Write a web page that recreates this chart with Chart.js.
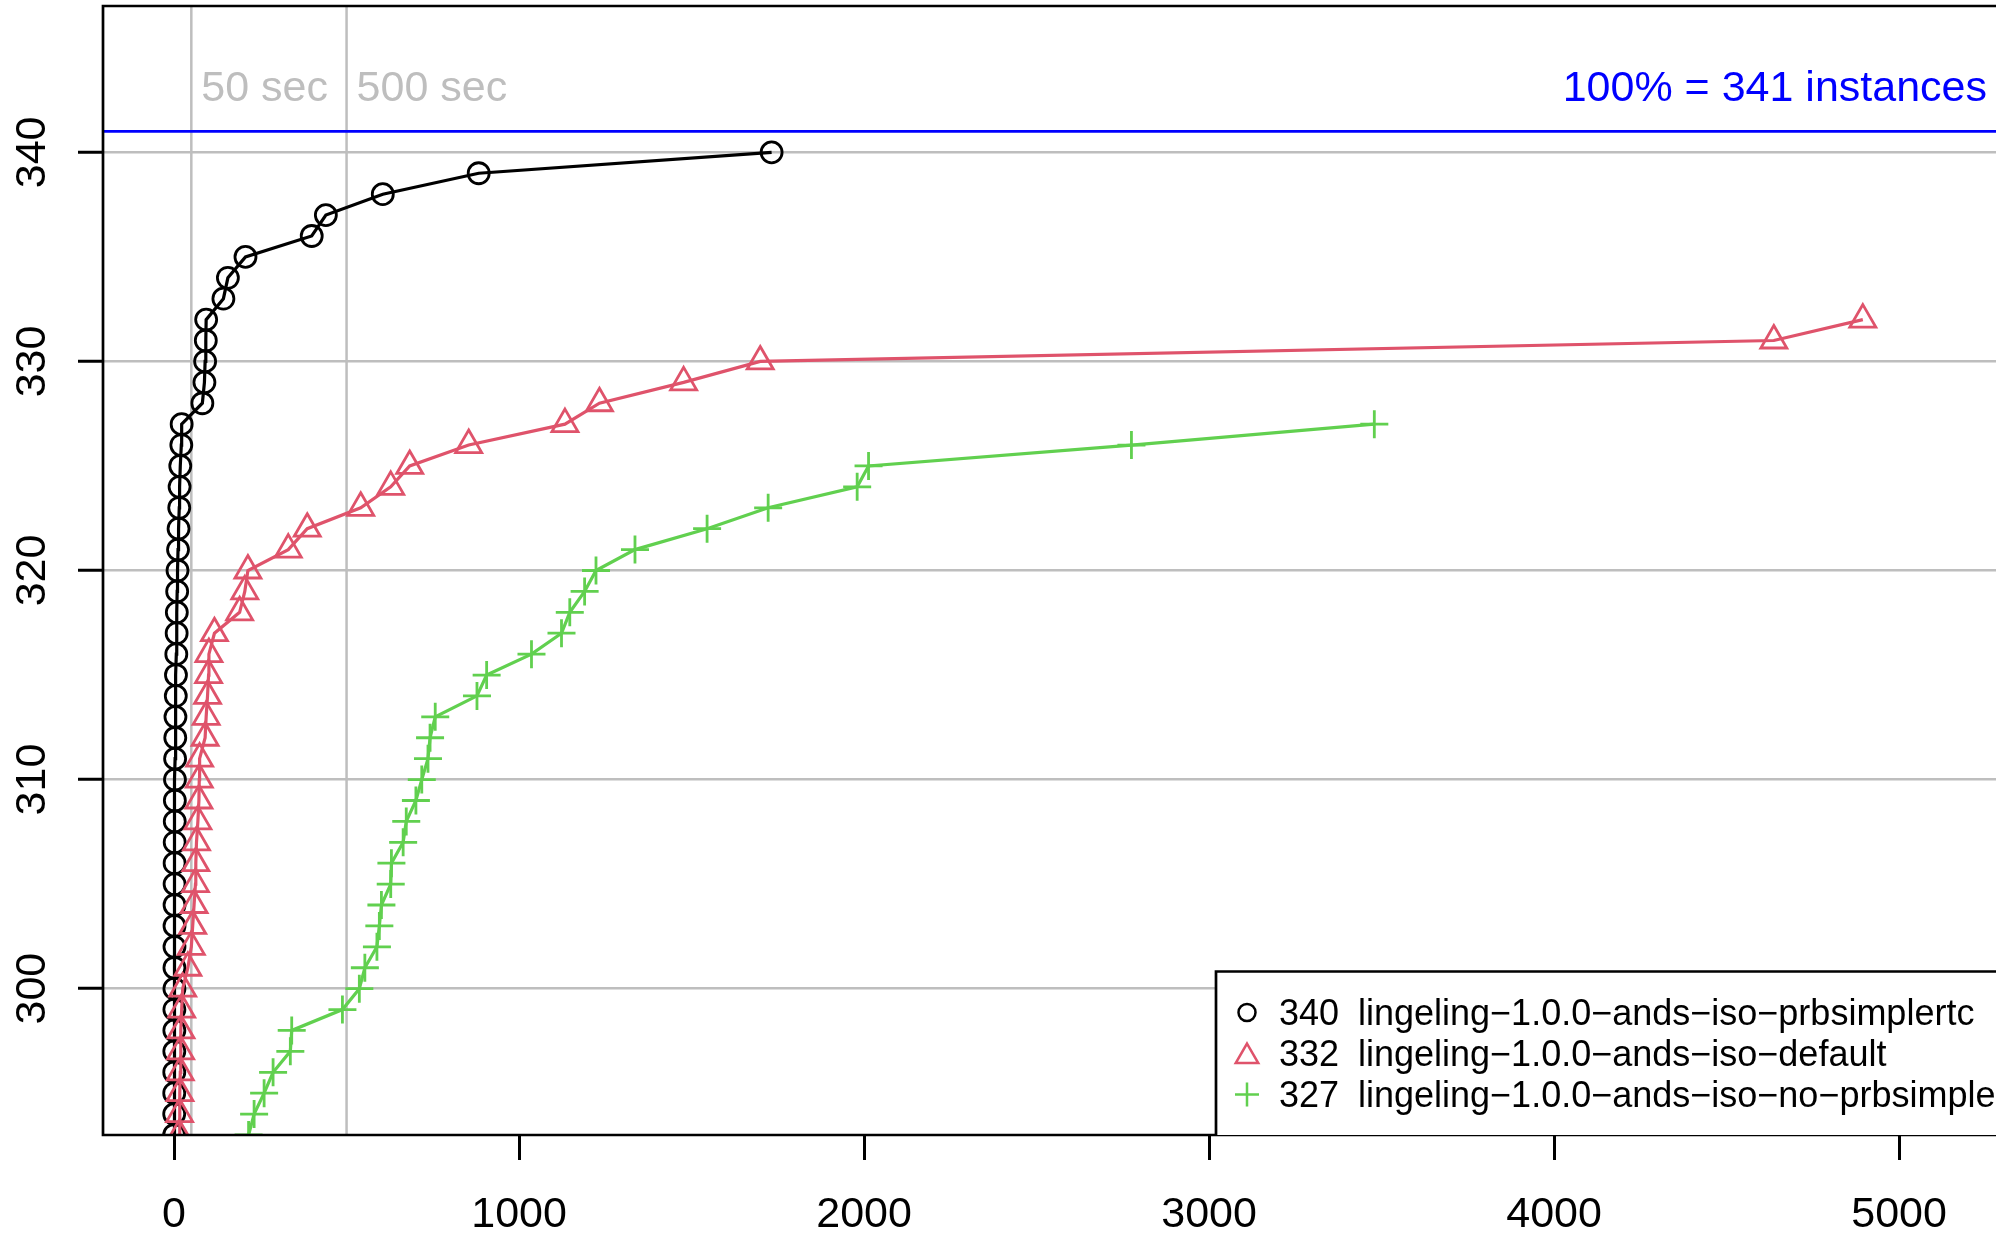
<!DOCTYPE html>
<html>
<head>
<meta charset="utf-8">
<script src="https://cdn.jsdelivr.net/npm/chart.js@4.4.0/dist/chart.umd.min.js"></script>
<style>
  html, body { margin: 0; padding: 0; background: #fff; overflow: hidden; }
  canvas { display: block; }
</style>
</head>
<body>
<canvas id="cactusChart" width="1996" height="1241"></canvas>
<script>
// Solved-instance counts (y). Each solver uses the first N entries of this list.
const instanceCounts = [292, 293, 294, 295, 296, 297, 298, 299, 300, 301, 302, 303, 304, 305, 306, 307,
    308, 309, 310, 311, 312, 313, 314, 315, 316, 317, 318, 319, 320, 321, 322, 323, 324, 325, 326, 327,
    328, 329, 330, 331, 332, 333, 334, 335, 336, 337, 338, 339, 340];

// Solving time in seconds for the n-th solved instance
const timesPrbsimplertc = [0.2, 0.3, 0.4, 0.5, 0.6, 0.7, 0.8, 0.9, 1.0, 1.1, 1.2, 1.3, 1.4, 1.5, 1.6, 1.8,
    2, 2.3, 2.6, 3, 3.5, 4, 5, 5.5, 6.5, 7.5, 8, 9, 10, 11.5, 13, 15, 16, 18, 21, 22,
    82, 88, 90, 92, 93, 143, 156, 207, 399, 440, 605, 883, 1732];
const timesDefault = [14, 15, 16, 17, 18, 19, 20, 22, 25, 40, 50, 54, 58, 62, 63, 65,
    69, 72, 73, 74, 90, 93, 97, 100, 101, 117, 190, 205, 214, 331, 386, 541, 628, 683, 854, 1133,
    1233, 1477, 1699, 4637, 4895];
const timesNoPrbsimple = [205, 216, 232, 261, 287, 337, 341, 488, 537, 553, 588, 595, 601, 628, 630, 664,
    673, 701, 718, 736, 742, 757, 878, 906, 1036, 1123, 1147, 1190, 1223, 1336, 1545, 1722, 1980, 2013, 2775,
    3479];

const solverNames = ['lingeling\u22121.0.0\u2212ands\u2212iso\u2212prbsimplertc',
    'lingeling\u22121.0.0\u2212ands\u2212iso\u2212default',
    'lingeling\u22121.0.0\u2212ands\u2212iso\u2212no\u2212prbsimple'];

const xTicks = [0, 1000, 2000, 3000, 4000, 5000];
const yTicks = [300, 310, 320, 330, 340];
const timeMarks = [50, 500];
const timeMarkLabels = ['50 sec', '500 sec'];
const totalInstances = 341;

const FONT = '"Liberation Sans", Arial, Helvetica, sans-serif';
const GREY = '#bebebe';

const series = [
    { name: solverNames[0], times: timesPrbsimplertc, color: '#000000', marker: 'circle', radius: 10.5, legendRadius: 8.5, order: 2 },
    { name: solverNames[1], times: timesDefault, color: '#DF536B', marker: 'triangle', radius: 15, legendRadius: 13, order: 1 },
    { name: solverNames[2], times: timesNoPrbsimple, color: '#61D04F', marker: 'cross', radius: 14, legendRadius: 12, order: 0 }
];

function drawMarker(ctx, style, x, y, r) {
    ctx.beginPath();
    if (style === 'circle') {
        ctx.arc(x, y, r, 0, Math.PI * 2);
    } else if (style === 'triangle') {
        ctx.moveTo(x, y - r);
        ctx.lineTo(x + 0.866 * r, y + 0.5 * r);
        ctx.lineTo(x - 0.866 * r, y + 0.5 * r);
        ctx.closePath();
    } else {
        ctx.moveTo(x - r, y); ctx.lineTo(x + r, y);
        ctx.moveTo(x, y - r); ctx.lineTo(x, y + r);
    }
    ctx.stroke();
}

// Grey time marks, blue 100% line and their captions (under the data)
const referencePlugin = {
    id: 'referenceLines',
    beforeDatasetsDraw(chart) {
        const { ctx, chartArea: a, scales: { x, y } } = chart;
        ctx.save();
        ctx.beginPath();
        ctx.rect(a.left, a.top, a.right - a.left, a.bottom - a.top);
        ctx.clip();

        ctx.strokeStyle = GREY;
        ctx.lineWidth = 2.5;
        timeMarks.forEach(t => {
            const px = x.getPixelForValue(t);
            ctx.beginPath();
            ctx.moveTo(px, a.top);
            ctx.lineTo(px, a.bottom);
            ctx.stroke();
        });

        const labelY = y.getPixelForValue(343);
        ctx.font = '43px ' + FONT;
        ctx.textBaseline = 'middle';
        ctx.textAlign = 'left';
        ctx.fillStyle = GREY;
        timeMarks.forEach((t, i) => {
            ctx.fillText(timeMarkLabels[i], x.getPixelForValue(t) + 10, labelY);
        });

        const py = y.getPixelForValue(totalInstances);
        ctx.strokeStyle = '#0000ff';
        ctx.lineWidth = 2.7;
        ctx.beginPath();
        ctx.moveTo(a.left, py);
        ctx.lineTo(a.right, py);
        ctx.stroke();

        ctx.fillStyle = '#0000ff';
        ctx.textAlign = 'right';
        ctx.fillText('100% = ' + totalInstances + ' instances', a.right - 9, labelY);
        ctx.restore();
    }
};

// Frame, tick labels and the legend box (R style)
const framePlugin = {
    id: 'rFrame',
    afterDraw(chart) {
        const { ctx, chartArea: a, scales: { x, y } } = chart;
        ctx.save();
        ctx.strokeStyle = '#000';
        ctx.lineWidth = 2.7;
        ctx.beginPath();
        ctx.moveTo(a.right + 2, a.top);
        ctx.lineTo(a.left, a.top);
        ctx.lineTo(a.left, a.bottom);
        ctx.lineTo(a.right + 2, a.bottom);
        ctx.stroke();

        ctx.fillStyle = '#000';
        ctx.font = '43px ' + FONT;
        ctx.textAlign = 'center';
        ctx.textBaseline = 'alphabetic';
        x.ticks.forEach(t => {
            ctx.fillText(String(t.value), x.getPixelForValue(t.value), a.bottom + 92);
        });
        y.ticks.forEach(t => {
            ctx.save();
            ctx.translate(a.left - 58, y.getPixelForValue(t.value));
            ctx.rotate(-Math.PI / 2);
            ctx.fillText(String(t.value), 0, 0);
            ctx.restore();
        });

        // legend
        const boxLeft = 1216, boxTop = 971.5;
        ctx.fillStyle = '#fff';
        ctx.fillRect(boxLeft, boxTop, a.right - boxLeft + 5, a.bottom - boxTop);
        ctx.strokeStyle = '#000';
        ctx.lineWidth = 2.7;
        ctx.beginPath();
        ctx.moveTo(a.right + 5, boxTop);
        ctx.lineTo(boxLeft, boxTop);
        ctx.lineTo(boxLeft, a.bottom);
        ctx.stroke();

        ctx.font = '36px ' + FONT;
        ctx.textAlign = 'left';
        ctx.textBaseline = 'alphabetic';
        series.forEach((s, i) => {
            const base = 1025 + i * 41;
            const cy = base - 12.5;
            ctx.strokeStyle = s.color;
            ctx.lineWidth = 2.5;
            drawMarker(ctx, s.marker, 1247, s.marker === 'triangle' ? cy + 3 : cy, s.legendRadius);
            ctx.fillStyle = '#000';
            const solved = instanceCounts[s.times.length - 1];
            ctx.fillText(String(solved), 1279, base);
            ctx.fillText(s.name, 1358, base);
        });
        ctx.restore();
    }
};

new Chart(document.getElementById('cactusChart'), {
    type: 'line',
    data: {
        datasets: series.map(s => ({
            label: s.name,
            data: s.times.map((t, i) => ({ x: t, y: instanceCounts[i] })),
            borderColor: s.color,
            borderWidth: 3.2,
            pointStyle: s.marker,
            pointRadius: s.radius,
            pointBorderColor: s.color,
            pointBackgroundColor: 'rgba(0,0,0,0)',
            pointBorderWidth: 2.8,
            tension: 0,
            fill: false,
            clip: 0,
            order: s.order
        }))
    },
    options: {
        responsive: false,
        animation: false,
        devicePixelRatio: 1,
        layout: { autoPadding: false, padding: { top: 6, left: 0, right: 0, bottom: 0 } },
        plugins: {
            legend: { display: false },
            tooltip: { enabled: false }
        },
        scales: {
            x: {
                type: 'linear',
                min: -206,
                max: 5281,
                afterBuildTicks: s => { s.ticks = xTicks.map(v => ({ value: v })); },
                afterFit: s => { s.height = 106; },
                ticks: { display: false },
                border: { display: false },
                grid: {
                    drawOnChartArea: false,
                    drawTicks: true,
                    tickLength: 25,
                    tickWidth: 3,
                    tickColor: '#000'
                }
            },
            y: {
                type: 'linear',
                min: 293,
                max: 347,
                afterBuildTicks: s => { s.ticks = yTicks.map(v => ({ value: v })); },
                afterFit: s => { s.width = 103; },
                ticks: { display: false },
                border: { display: false },
                grid: {
                    color: GREY,
                    lineWidth: 2.5,
                    drawTicks: true,
                    tickLength: 25,
                    tickWidth: 3,
                    tickColor: '#000'
                }
            }
        }
    },
    plugins: [referencePlugin, framePlugin]
});
</script>
</body>
</html>
